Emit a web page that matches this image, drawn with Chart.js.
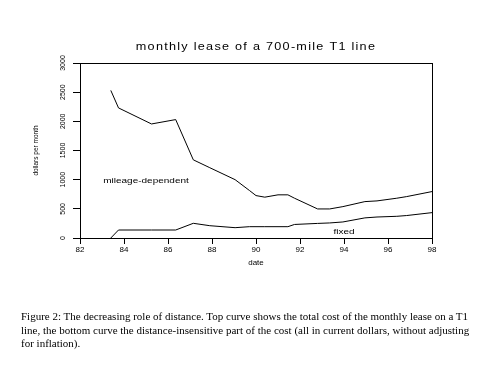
<!DOCTYPE html>
<html>
<head>
<meta charset="utf-8">
<script src="https://cdn.jsdelivr.net/npm/chart.js@4.4.0/dist/chart.umd.min.js"></script>
<style>
  html, body { margin: 0; padding: 0; background: #fff; }
  #wrap { position: relative; width: 500px; height: 384px; }
  #caption {
    position: absolute; left: 21px; top: 310px;
    font-family: "Liberation Serif", "Times New Roman", serif;
    font-size: 11px; line-height: 13.5px; color: #000; white-space: nowrap;
  }
</style>
</head>
<body>
<div id="wrap">
  <canvas id="leaseChart" width="500" height="384"></canvas>
  <div id="caption">Figure 2: The decreasing role of distance. Top curve shows the total cost of the monthly lease on a T1<br>line, the bottom curve the distance-insensitive part of the cost (all in current dollars, without adjusting<br>for inflation).</div>
</div>
<script>
// values (year = 19xx, dollars per month)
var years = [83.4, 83.75, 85.25, 86.35, 87.15, 87.9, 89.05, 89.7, 90.0, 90.4, 91.0, 91.45, 91.75, 92.8, 93.35, 93.95, 94.95, 95.5, 96.4, 96.85, 98];
var totalCost = [2530, 2230, 1955, 2030, 1340, 1205, 1000, 815, 727, 700, 740, 740, 682, 498, 498, 538, 624, 636, 682, 710, 796];
var fixedCost = [0, 137, 137, 137, 252, 211, 177, 194, 194, 194, 194, 194, 232, 250, 258, 275, 345, 360, 372, 385, 435];
var xTicks = [82, 84, 86, 88, 90, 92, 94, 96, 98];
var yTicks = [0, 500, 1000, 1500, 2000, 2500, 3000];

// curve labels, placed in data coordinates
var curveLabels = [
    { text: 'mileage-dependent', x: 85.0, y: 980 },
    { text: 'fixed', x: 94.0, y: 100 }
];

function toPoints(xs, ys) {
    return xs.map(function (v, i) { return { x: v, y: ys[i] }; });
}

// stretched text, the original figure was scaled wider than tall
function wideText(ctx, txt, cx, cy, sx) {
    ctx.save();
    ctx.translate(cx, cy);
    ctx.scale(sx, 1);
    ctx.textAlign = 'center';
    ctx.textBaseline = 'middle';
    ctx.fillText(txt, 0, 0);
    ctx.restore();
}

var framePlugin = {
    id: 'frame',
    afterDraw: function (chart) {
        var ctx = chart.ctx, a = chart.chartArea;
        var xs = chart.scales.x, ys = chart.scales.y;
        ctx.save();
        ctx.strokeStyle = '#000';
        ctx.lineWidth = 1;
        var l = Math.round(a.left) + 0.5, t = Math.round(a.top) + 0.5;
        var r = Math.round(a.right) + 0.5, b = Math.round(a.bottom) + 0.5;
        ctx.strokeRect(l, t, r - l, b - t);

        ctx.fillStyle = '#000';
        ctx.font = '11px "Liberation Sans", Arial, sans-serif';
        ctx.letterSpacing = '1.1px';
        wideText(ctx, 'monthly lease of a 700-mile T1 line', (a.left + a.right) / 2, 47, 1.15);
        ctx.letterSpacing = '0px';

        ctx.font = '8px "Liberation Sans", Arial, sans-serif';
        curveLabels.forEach(function (lab) {
            wideText(ctx, lab.text, xs.getPixelForValue(lab.x), ys.getPixelForValue(lab.y), 1.25);
        });
        ctx.restore();
    }
};

var ctx = document.getElementById('leaseChart').getContext('2d');
var leaseChart = new Chart(ctx, {
    type: 'line',
    data: {
        datasets: [{
            label: 'total',
            data: toPoints(years, totalCost),
            borderColor: '#000',
            borderWidth: 1,
            pointRadius: 0,
            tension: 0,
            fill: false
        }, {
            label: 'fixed',
            data: toPoints(years, fixedCost),
            borderColor: '#000',
            borderWidth: 1,
            pointRadius: 0,
            tension: 0,
            fill: false
        }]
    },
    options: {
        responsive: false,
        animation: false,
        devicePixelRatio: 1,
        layout: { padding: { top: 63, right: 68, bottom: 116, left: 0 } },
        plugins: {
            legend: { display: false },
            tooltip: { enabled: false }
        },
        scales: {
            x: {
                type: 'linear',
                min: 82,
                max: 98,
                afterFit: function (s) { s.height = 30; },
                afterBuildTicks: function (s) { s.ticks = xTicks.map(function (v) { return { value: v }; }); },
                ticks: {
                    color: '#000',
                    padding: 1,
                    maxRotation: 0,
                    font: { family: 'Liberation Sans', size: 8 },
                    callback: function (v) { return String(v); }
                },
                grid: { display: true, drawOnChartArea: false, drawTicks: true, tickLength: 6, color: '#000' },
                border: { display: true, color: '#000', width: 1 },
                title: {
                    display: true,
                    text: 'date',
                    color: '#000',
                    font: { family: 'Liberation Sans', size: 8 },
                    padding: { top: 0, bottom: 0 }
                }
            },
            y: {
                min: 0,
                max: 3000,
                afterFit: function (s) { s.width = 80; },
                afterBuildTicks: function (s) { s.ticks = yTicks.map(function (v) { return { value: v }; }); },
                ticks: {
                    color: '#000',
                    padding: 2,
                    minRotation: 90,
                    maxRotation: 90,
                    crossAlign: 'center',
                    font: { family: 'Liberation Sans', size: 7 },
                    callback: function (v) { return String(v); }
                },
                grid: { display: true, drawOnChartArea: false, drawTicks: true, tickLength: 7, color: '#000' },
                border: { display: true, color: '#000', width: 1 },
                title: {
                    display: true,
                    text: 'dollars per month',
                    color: '#000',
                    font: { family: 'Liberation Sans', size: 6.5 },
                    padding: { top: 32, bottom: 0 }
                }
            }
        }
    },
    plugins: [framePlugin]
});
</script>
</body>
</html>
